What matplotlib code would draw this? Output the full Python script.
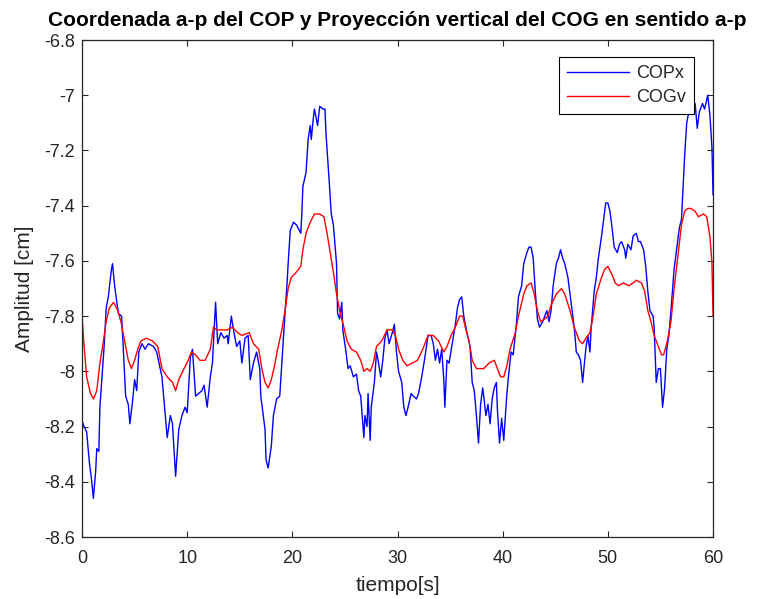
import numpy as np
from matplotlib import pyplot as plt
from matplotlib.ticker import FormatStrFormatter

plt.rcParams['font.family'] = ['Liberation Sans', 'DejaVu Sans']
plt.rcParams['axes.unicode_minus'] = False

TITLE = 'Coordenada a-p del COP y Proyección vertical del COG en sentido a-p'
XLABEL = 'tiempo[s]'
YLABEL = 'Amplitud [cm]'
LEGENDS = ['COPx', 'COGv']

# COPx (blue)
cop_t = [0, 0.2, 0.44, 0.7, 0.9, 1.08, 1.3, 1.4, 1.6, 1.7, 1.9, 2.1, 2.3, 2.5, 2.8, 2.9,
         3.1, 3.45, 3.76, 3.9, 4.15, 4.4, 4.55, 4.8, 5.0, 5.2, 5.4, 5.7, 6.0, 6.3, 6.8, 7.1,
         7.6, 7.9, 8.1, 8.4, 8.6, 8.9, 9.2, 9.5, 9.8, 10.0, 10.3, 10.5, 10.8, 11.1, 11.4,
         11.6, 11.9, 12.2, 12.4, 12.7, 12.9, 13.2, 13.5, 13.8, 13.9, 14.2, 14.4, 14.7, 15.0,
         15.2, 15.5, 15.8, 16.0, 16.3, 16.6, 16.9, 17.0, 17.4, 17.5, 17.7, 18.0, 18.2, 18.5,
         18.8, 19.1, 19.3, 19.5, 19.6, 19.8, 20.1, 20.4, 20.8, 20.9, 21.0, 21.3, 21.5, 21.7,
         21.8, 22.0, 22.1, 22.4, 22.6, 22.9, 23.1, 23.2, 23.5, 23.7, 23.9, 24.2, 24.3, 24.5,
         24.7, 24.8, 25.1, 25.3, 25.5, 25.8, 26.1, 26.3, 26.5, 26.8, 26.9, 27.1, 27.2, 27.4,
         27.5, 27.8, 28.0, 28.2, 28.4, 28.6, 28.8, 29.0, 29.2, 29.5, 29.7, 29.9, 30.1, 30.4,
         30.6, 30.8, 31.0, 31.3, 31.5, 31.8, 32.0, 32.3, 32.6, 32.9, 33.2, 33.4, 33.6, 33.8,
         34.0, 34.2, 34.4, 34.5, 34.7, 34.9, 35.2, 35.5, 35.7, 35.9, 36.1, 36.3, 36.6, 36.9,
         37.1, 37.3, 37.5, 37.7, 37.9, 38.1, 38.2, 38.4, 38.6, 38.8, 39.0, 39.2, 39.4, 39.5,
         39.7, 39.9, 40.1, 40.4, 40.6, 40.8, 41.0, 41.3, 41.5, 41.8, 42.0, 42.3, 42.5, 42.7,
         42.9, 43.1, 43.3, 43.5, 43.8, 44.0, 44.2, 44.4, 44.6, 44.8, 45.1, 45.3, 45.5, 45.7,
         45.9, 46.2, 46.5, 46.8, 47.0, 47.2, 47.4, 47.6, 47.9, 48.1, 48.3, 48.4, 48.7, 48.9,
         49.1, 49.4, 49.6, 49.8, 50.0, 50.2, 50.4, 50.6, 50.9, 51.1, 51.3, 51.6, 51.7, 51.9,
         52.2, 52.4, 52.7, 52.9, 53.1, 53.4, 53.6, 53.8, 54.0, 54.3, 54.4, 54.6, 54.8, 55.0,
         55.2, 55.4, 55.6, 55.8, 56.0, 56.3, 56.5, 56.8, 57.0, 57.3, 57.5, 57.7, 58.0, 58.3,
         58.5, 58.7, 59.0, 59.2, 59.5, 59.7, 59.9, 60.0]
cop_x = [-8.18, -8.20, -8.22, -8.33, -8.39, -8.46, -8.36, -8.28, -8.29, -8.13, -8.02, -7.91,
         -7.77, -7.73, -7.63, -7.61, -7.69, -7.79, -7.80, -7.90, -8.09, -8.12, -8.19, -8.11,
         -8.03, -8.07, -7.93, -7.90, -7.92, -7.90, -7.91, -7.93, -8.02, -8.15, -8.24, -8.16,
         -8.19, -8.38, -8.21, -8.16, -8.13, -8.15, -7.95, -7.92, -8.09, -8.08, -8.07, -8.05,
         -8.13, -8.02, -7.97, -7.75, -7.90, -7.86, -7.88, -7.87, -7.90, -7.80, -7.85, -7.91,
         -7.89, -7.97, -7.88, -7.87, -8.03, -7.97, -7.93, -7.99, -8.09, -8.21, -8.32, -8.35,
         -8.27, -8.16, -8.10, -8.09, -7.91, -7.79, -7.68, -7.61, -7.49, -7.46, -7.47, -7.50,
         -7.43, -7.33, -7.28, -7.16, -7.11, -7.16, -7.08, -7.05, -7.11, -7.04, -7.05, -7.05,
         -7.14, -7.31, -7.43, -7.47, -7.61, -7.79, -7.81, -7.75, -7.85, -7.93, -7.99, -7.98,
         -8.02, -8.01, -8.07, -8.09, -8.24, -8.16, -8.20, -8.08, -8.25, -8.13, -8.04, -7.93,
         -7.97, -8.02, -7.96, -7.88, -7.85, -7.90, -7.86, -7.83, -7.93, -8.00, -8.04, -8.13,
         -8.16, -8.13, -8.08, -8.09, -8.10, -8.08, -8.02, -7.95, -7.87, -7.87, -7.90, -7.96,
         -7.92, -7.97, -7.92, -8.03, -8.13, -7.96, -7.97, -7.90, -7.83, -7.77, -7.74, -7.73,
         -7.80, -7.86, -7.91, -8.04, -8.07, -8.16, -8.26, -8.12, -8.06, -8.09, -8.16, -8.12,
         -8.19, -8.10, -8.06, -8.04, -8.14, -8.26, -8.17, -8.25, -8.08, -8.00, -7.93, -7.94,
         -7.83, -7.73, -7.69, -7.61, -7.57, -7.55, -7.55, -7.59, -7.71, -7.81, -7.84, -7.82,
         -7.80, -7.78, -7.82, -7.78, -7.69, -7.61, -7.59, -7.56, -7.59, -7.61, -7.66, -7.75,
         -7.84, -7.93, -7.94, -7.96, -8.04, -7.92, -7.87, -7.93, -7.85, -7.71, -7.66, -7.59,
         -7.51, -7.45, -7.39, -7.39, -7.42, -7.48, -7.55, -7.57, -7.54, -7.53, -7.56, -7.59,
         -7.54, -7.56, -7.51, -7.50, -7.53, -7.53, -7.56, -7.62, -7.71, -7.78, -7.80, -7.84,
         -8.04, -7.99, -7.99, -8.13, -8.06, -7.92, -7.87, -7.78, -7.63, -7.57, -7.48, -7.45,
         -7.22, -7.10, -7.06, -7.07, -7.03, -7.12, -7.06, -7.03, -7.05, -7.00, -7.07, -7.19,
         -7.36]

# COGv (red)
cog_t = [0, 0.2, 0.44, 0.8, 1.1, 1.4, 1.7, 2.0, 2.3, 2.6, 3.0, 3.4, 3.7, 4.0, 4.4, 4.7,
         5.0, 5.3, 5.6, 6.1, 6.7, 7.2, 7.6, 8.1, 8.6, 8.9, 9.2, 9.7, 10.1, 10.4, 10.8, 11.2,
         11.7, 12.2, 12.5, 12.8, 13.3, 13.8, 14.3, 14.8, 15.2, 15.9, 16.3, 16.8, 17.1, 17.4,
         17.7, 18.0, 18.3, 18.6, 19.0, 19.3, 19.6, 19.9, 20.4, 20.8, 21.0, 21.3, 21.7, 22.1,
         22.6, 23.0, 23.3, 23.6, 23.9, 24.2, 24.5, 24.9, 25.2, 25.6, 26.1, 26.5, 26.8, 27.1,
         27.4, 27.7, 28.0, 28.5, 29.0, 29.5, 29.8, 30.1, 30.5, 30.9, 31.4, 31.9, 32.4, 32.9,
         33.4, 33.9, 34.4, 34.7, 35.1, 35.5, 35.9, 36.2, 36.5, 36.8, 37.1, 37.5, 37.8, 38.2,
         38.7, 39.2, 39.5, 39.8, 40.1, 40.4, 40.7, 41.2, 41.5, 42.0, 42.3, 42.7, 43.0, 43.3,
         43.6, 44.0, 44.3, 44.6, 45.1, 45.6, 45.9, 46.4, 46.8, 47.3, 47.6, 47.9, 48.3, 48.6,
         48.9, 49.4, 49.7, 50.0, 50.4, 50.7, 51.0, 51.5, 52.0, 52.4, 52.7, 53.2, 53.5, 53.8,
         54.1, 54.4, 54.8, 55.1, 55.3, 55.6, 56.0, 56.3, 56.7, 57.0, 57.3, 57.6, 57.9, 58.3,
         58.6, 59.1, 59.4, 59.7, 59.9, 60.0]
cog_v = [-7.80, -7.91, -8.02, -8.08, -8.10, -8.07, -7.97, -7.90, -7.82, -7.77, -7.75, -7.78,
         -7.82, -7.88, -7.96, -7.99, -7.96, -7.92, -7.89, -7.88, -7.89, -7.91, -7.99, -8.02,
         -8.04, -8.07, -8.03, -7.99, -7.96, -7.93, -7.94, -7.96, -7.96, -7.92, -7.84, -7.85,
         -7.85, -7.85, -7.84, -7.86, -7.87, -7.86, -7.90, -7.92, -7.99, -8.04, -8.06, -8.03,
         -7.98, -7.92, -7.85, -7.78, -7.70, -7.66, -7.64, -7.62, -7.56, -7.50, -7.46, -7.43,
         -7.43, -7.44, -7.50, -7.57, -7.64, -7.72, -7.78, -7.84, -7.89, -7.92, -7.93, -7.96,
         -8.00, -7.99, -8.00, -7.97, -7.91, -7.89, -7.85, -7.85, -7.87, -7.92, -7.96, -7.98,
         -7.97, -7.96, -7.92, -7.87, -7.87, -7.89, -7.93, -7.91, -7.87, -7.84, -7.80, -7.80,
         -7.85, -7.89, -7.96, -7.99, -7.99, -7.99, -7.97, -7.96, -7.99, -8.02, -8.02, -7.98,
         -7.92, -7.86, -7.80, -7.72, -7.69, -7.68, -7.72, -7.78, -7.82, -7.81, -7.80, -7.76,
         -7.72, -7.70, -7.72, -7.78, -7.84, -7.89, -7.90, -7.88, -7.86, -7.80, -7.72, -7.66,
         -7.63, -7.62, -7.65, -7.68, -7.69, -7.68, -7.69, -7.68, -7.67, -7.68, -7.71, -7.78,
         -7.82, -7.87, -7.91, -7.94, -7.94, -7.90, -7.82, -7.70, -7.57, -7.47, -7.42, -7.41,
         -7.41, -7.42, -7.44, -7.43, -7.44, -7.51, -7.61, -7.80]

x_ticks = [0, 10, 20, 30, 40, 50, 60]
y_ticks = [-8.6, -8.4, -8.2, -8, -7.8, -7.6, -7.4, -7.2, -7, -6.8]

GREY = (0.15, 0.15, 0.15)

fig = plt.figure(figsize=(7.63, 5.99), dpi=100)
ax = fig.add_axes([0.1075, 0.1035, 0.8270, 0.8297])

ax.plot(cop_t, cop_x, color=(0, 0, 1), linewidth=1.0, label=LEGENDS[0])
ax.plot(cog_t, cog_v, color=(1, 0, 0), linewidth=1.0, label=LEGENDS[1])

ax.set_xlim(0, 60)
ax.set_ylim(-8.6, -6.8)
ax.set_xticks(x_ticks)
ax.set_yticks(y_ticks)
ax.yaxis.set_major_formatter(FormatStrFormatter('%g'))
ax.tick_params(direction='in', top=True, right=True, length=4.5, width=0.8,
               colors=GREY, labelsize=13)
ax.tick_params(axis='x', pad=9)
ax.tick_params(axis='y', pad=5)
for s in ax.spines.values():
    s.set_color(GREY)
    s.set_linewidth(0.9)

ax.set_xlabel(XLABEL, fontsize=15, color=GREY, labelpad=7)
ax.set_ylabel(YLABEL, fontsize=15, color=GREY, labelpad=7)
ax.set_title(TITLE, fontsize=15, fontweight='bold', pad=10)

leg = ax.legend(loc='upper right', bbox_to_anchor=(0.970, 0.966), borderaxespad=0,
                fancybox=False, framealpha=1, edgecolor='black', fontsize=13,
                handlelength=3.4, handletextpad=0.4, borderpad=0.45, labelspacing=0.4)
leg.get_frame().set_linewidth(0.8)
for t in leg.get_texts():
    t.set_color(GREY)

fig.savefig('out.png', dpi=100)
